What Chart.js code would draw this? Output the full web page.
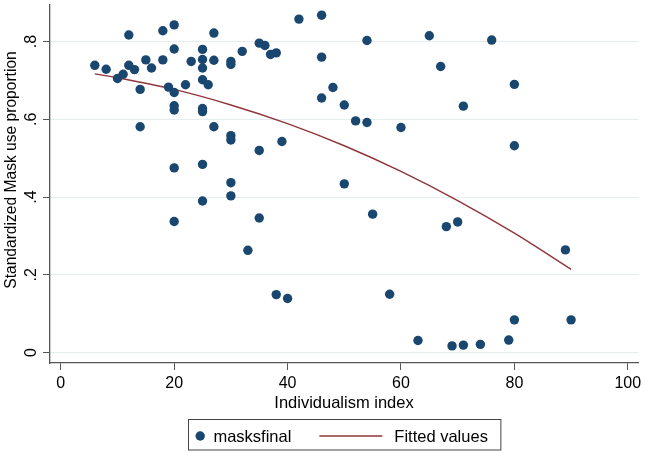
<!DOCTYPE html>
<html>
<head>
<meta charset="utf-8">
<script src="https://cdn.jsdelivr.net/npm/chart.js@4/dist/chart.umd.min.js"></script>
<style>
  html, body { margin: 0; padding: 0; background: #fff; }
  #wrap { width: 645px; height: 454px; position: relative; }
</style>
</head>
<body>
<div id="wrap"><canvas id="scatterChart"></canvas></div>
<script>
// individualism index (x) and standardized mask use (y)
const maskX = [6, 8, 10, 11, 12, 12, 13, 14, 15, 16, 14, 18, 18, 19, 20, 20, 20, 20, 20, 20,
  22, 23, 25, 25, 25, 25, 26, 25, 25, 25, 27, 27, 27, 30, 30, 30, 30, 30, 30, 32,
  35, 35, 36, 37, 38, 39, 42, 46, 46, 46, 25, 54, 65, 76, 67, 80, 48, 50, 52, 54,
  60, 71, 80, 50, 20, 35, 33, 38, 40, 55, 68, 70, 89, 58, 80, 90, 63, 69, 71, 74, 79];
const maskY = [.739, .729, .705, .716, .817, .739, .728, .677, .753, .732, .581, .828, .753, .683, .843, .781, .669, .635, .624, .475,
  .689, .749, .780, .754, .732, .702, .689, .628, .620, .484, .822, .752, .581, .749, .741, .558, .547, .437, .403, .775,
  .520, .796, .790, .767, .771, .543, .858, .868, .760, .655, .390, .803, .815, .804, .736, .690, .682, .637, .596, .592,
  .579, .634, .532, .434, .337, .346, .263, .149, .139, .356, .324, .336, .264, .150, .084, .084, .031, .017, .019, .021, .032];

// fitted curve, read at a few x positions
const fitX = [6, 10, 20, 30, 40, 50, 60, 70, 80, 90];
const fitY = [.717, .707, .677, .637, .589, .532, .466, .391, .307, .214];

const xTicks = [0, 20, 40, 60, 80, 100];
const yTicks = [0, .2, .4, .6, .8];
const yTickLabels = ['0', '.2', '.4', '.6', '.8'];
const yTitle = 'Standardized Mask use proportion';

const navy = '#1a476f';
const maroon = '#90353b';
const axisCol = '#555555';
const gridCol = '#e4eeee';
const font = '"Liberation Sans", Arial, Helvetica, sans-serif';

// y title sits a bit above the middle of the plot, so it is drawn here
const yTitlePlugin = {
  id: 'yTitlePlugin',
  afterDraw(chart) {
    const ctx = chart.ctx;
    ctx.save();
    ctx.translate(12, 170);
    ctx.rotate(-Math.PI / 2);
    ctx.font = '15.6px ' + font;
    ctx.fillStyle = '#000';
    ctx.textAlign = 'center';
    ctx.textBaseline = 'middle';
    ctx.fillText(yTitle, 0, 0);
    ctx.restore();
  }
};

// legend with a frame, drawn below the x title
const boxLegend = {
  id: 'boxLegend',
  afterDraw(chart) {
    const ctx = chart.ctx;
    const ds = chart.data.datasets;
    ctx.save();
    ctx.font = '16.5px ' + font;
    const w1 = ctx.measureText(ds[0].label).width;
    const w2 = ctx.measureText(ds[1].label).width;
    const total = 7 + 9.4 + 8.5 + w1 + 28 + 63 + 12 + w2 + 13;
    const cx = (chart.chartArea.left + chart.chartArea.right) / 2;
    const left = Math.round(cx - total / 2) + 0.5;
    const top = 419.5, h = 30.5, midY = 436;
    ctx.strokeStyle = '#444';
    ctx.lineWidth = 1;
    ctx.strokeRect(left, top, total, h);

    let x = left + 7;
    ctx.fillStyle = navy;
    ctx.beginPath();
    ctx.arc(x + 4.7, midY, 4.7, 0, Math.PI * 2);
    ctx.fill();
    x += 9.4 + 8.5;
    ctx.fillStyle = '#000';
    ctx.textBaseline = 'middle';
    ctx.fillText(ds[0].label, x, midY + 1);
    x += w1 + 28;
    ctx.strokeStyle = maroon;
    ctx.lineWidth = 1.4;
    ctx.beginPath();
    ctx.moveTo(x, midY);
    ctx.lineTo(x + 63, midY);
    ctx.stroke();
    x += 63 + 12;
    ctx.fillText(ds[1].label, x, midY + 1);
    ctx.restore();
  }
};

const ctx = document.getElementById('scatterChart').getContext('2d');
const chart = new Chart(ctx, {
  type: 'scatter',
  data: {
    datasets: [{
      label: 'masksfinal',
      data: maskX.map((x, i) => ({ x: x, y: maskY[i] })),
      backgroundColor: navy,
      borderColor: navy,
      pointRadius: 4.7,
      pointHoverRadius: 4.7,
      borderWidth: 0
    }, {
      label: 'Fitted values',
      data: fitX.map((x, i) => ({ x: x, y: fitY[i] })),
      showLine: true,
      borderColor: maroon,
      borderWidth: 1.4,
      pointRadius: 0,
      cubicInterpolationMode: 'monotone'
    }]
  },
  options: {
    responsive: true,
    maintainAspectRatio: false,
    animation: false,
    layout: { padding: { left: 0, right: 7, top: 2, bottom: 39 } },
    plugins: {
      legend: { display: false },
      tooltip: { enabled: false }
    },
    scales: {
      x: {
        type: 'linear',
        min: -1.9,
        max: 101.8,
        afterBuildTicks: s => { s.ticks = xTicks.map(v => ({ value: v })); },
        afterFit: s => { s.height = 52; s.paddingLeft = 0; s.paddingRight = 0; },
        ticks: {
          color: '#000',
          font: { family: font, size: 16 },
          padding: 4,
          maxRotation: 0
        },
        grid: {
          drawOnChartArea: false,
          drawTicks: true,
          tickLength: 7,
          tickColor: axisCol,
          tickWidth: 1
        },
        border: { display: true, color: axisCol, width: 1.3 },
        title: {
          display: true,
          text: 'Individualism index',
          color: '#000',
          font: { family: font, size: 16.5 },
          padding: { top: 0, bottom: 1.5 }
        }
      },
      y: {
        type: 'linear',
        min: -0.027,
        max: 0.895,
        afterBuildTicks: s => { s.ticks = yTicks.map(v => ({ value: v })); },
        afterFit: s => { s.width = 50; s.paddingTop = 0; s.paddingBottom = 0; },
        ticks: {
          color: '#000',
          font: { family: font, size: 16 },
          padding: 5,
          minRotation: 90,
          maxRotation: 90,
          crossAlign: 'center',
          callback: (v) => yTickLabels[yTicks.indexOf(v)]
        },
        grid: {
          color: gridCol,
          lineWidth: 1,
          drawTicks: true,
          tickLength: 7,
          tickColor: axisCol,
          tickWidth: 1
        },
        border: { display: true, color: axisCol, width: 1.3 }
      }
    }
  },
  plugins: [yTitlePlugin, boxLegend]
});
</script>
</body>
</html>
